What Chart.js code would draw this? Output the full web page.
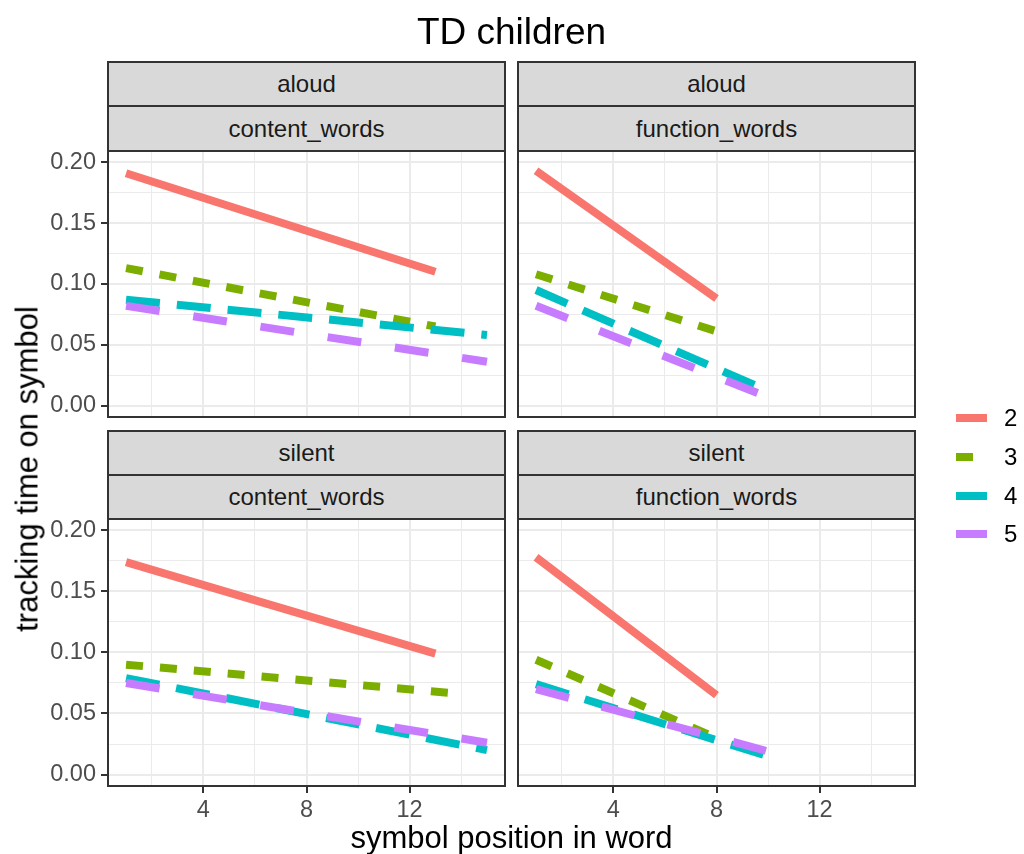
<!DOCTYPE html>
<html>
<head>
<meta charset="utf-8">
<script src="https://cdn.jsdelivr.net/npm/chart.js"></script>
<style>
  body { margin: 0; background: #fff; font-family: "Liberation Sans", Arial, sans-serif; }
  #pagina { position: relative; width: 1024px; height: 854px; overflow: hidden; background: #fff; }
  .camada { position: absolute; left: 0; top: 0; }
  .faixa {
    position: absolute; box-sizing: border-box; background: #D9D9D9;
    border: 2px solid #333333; color: #1A1A1A; font-size: 24px;
    display: flex; align-items: center; justify-content: center;
  }
  .texto { position: absolute; white-space: nowrap; color: #000; }
  .chave { position: absolute; height: 8px; }
  .rotulo { position: absolute; font-size: 24px; line-height: 24px; color: #000; }
</style>
</head>
<body>
<div id="pagina">
  <div class="camada"><canvas id="p1" width="1024" height="854"></canvas></div>
  <div class="camada"><canvas id="p2" width="1024" height="854"></canvas></div>
  <div class="camada"><canvas id="p3" width="1024" height="854"></canvas></div>
  <div class="camada"><canvas id="p4" width="1024" height="854"></canvas></div>

  <!-- faixas dos painéis (facet strips) -->
  <div class="faixa" style="left:107px; top:61px; width:399px; height:46px;">aloud</div>
  <div class="faixa" style="left:107px; top:105px; width:399px; height:47px;">content_words</div>
  <div class="faixa" style="left:517px; top:61px; width:399px; height:46px;">aloud</div>
  <div class="faixa" style="left:517px; top:105px; width:399px; height:47px;">function_words</div>
  <div class="faixa" style="left:107px; top:430px; width:399px; height:46px;">silent</div>
  <div class="faixa" style="left:107px; top:474px; width:399px; height:46px;">content_words</div>
  <div class="faixa" style="left:517px; top:430px; width:399px; height:46px;">silent</div>
  <div class="faixa" style="left:517px; top:474px; width:399px; height:46px;">function_words</div>

  <div class="texto" style="left:511.5px; top:13px; font-size:37px; line-height:37px; transform:translateX(-50%);">TD children</div>
  <div class="texto" style="left:511.5px; top:822px; font-size:31px; line-height:31px; transform:translateX(-50%);">symbol position in word</div>
  <div class="texto" style="left:26.5px; top:468.5px; font-size:31px; line-height:31px; transform:translate(-50%,-50%) rotate(-90deg);">tracking time on symbol</div>

  <div id="legenda"></div>
</div>

<script>
// grupos e cores (paleta padrão do ggplot)
const grupos = ['2', '3', '4', '5'];
const cores = ['#F8766D', '#7CAE00', '#00BFC4', '#C77CFF'];
const tracos = [[], [17, 17], [34, 17], [34, 34]];

const xTicks = [2, 4, 6, 8, 10, 12, 14];
const yTicks = [0, 0.025, 0.05, 0.075, 0.1, 0.125, 0.15, 0.175, 0.2];

// aloud / content_words  (início e fim de cada reta)
const aloudContentX = [[1, 13], [1, 13], [1, 15], [1, 15]];
const aloudContentY = [[0.191, 0.110], [0.113, 0.065], [0.087, 0.058], [0.082, 0.036]];

// aloud / function_words
const aloudFunctionX = [[1, 8], [1, 8], [1, 10], [1, 10]];
const aloudFunctionY = [[0.193, 0.088], [0.108, 0.061], [0.095, 0.012], [0.082, 0.007]];

// silent / content_words
const silentContentX = [[1, 13], [1, 14], [1, 15], [1, 15]];
const silentContentY = [[0.174, 0.099], [0.090, 0.066], [0.079, 0.020], [0.075, 0.026]];

// silent / function_words
const silentFunctionX = [[1, 8], [1, 8], [1, 10], [1, 10]];
const silentFunctionY = [[0.178, 0.065], [0.094, 0.030], [0.074, 0.015], [0.070, 0.019]];

Chart.defaults.font.family = '"Liberation Sans", Arial, sans-serif';

// contorno do painel (theme_bw)
const bordaPainel = {
  id: 'bordaPainel',
  afterDraw(chart) {
    const a = chart.chartArea;
    const ctx = chart.ctx;
    ctx.save();
    ctx.strokeStyle = '#333333';
    ctx.lineWidth = 2;
    ctx.strokeRect(a.left, a.top, a.right - a.left, a.bottom - a.top);
    ctx.restore();
  }
};

const ehMaiorX = v => v % 4 === 0;
const ehMaiorY = v => Math.round(v * 1000) % 50 === 0;

function criarPainel(canvasId, xs, ys, caixa, mostraY, mostraX) {
  const datasets = grupos.map((g, i) => ({
    label: g,
    data: xs[i].map((x, k) => ({ x: x, y: ys[i][k] })),
    borderColor: cores[i],
    borderWidth: 8,
    borderDash: tracos[i],
    borderCapStyle: 'butt',
    pointRadius: 0,
    fill: false,
    tension: 0,
    order: grupos.length - i // grupo 5 por cima
  }));

  const larguraY = mostraY ? 100 : 0;
  const alturaX = mostraX ? 50 : 0;

  return new Chart(document.getElementById(canvasId), {
    type: 'line',
    data: { datasets },
    options: {
      responsive: false,
      animation: false,
      events: [],
      layout: {
        padding: {
          left: caixa.left - larguraY,
          top: caixa.top,
          right: 1024 - caixa.right,
          bottom: 854 - caixa.bottom - alturaX
        }
      },
      plugins: {
        legend: { display: false },
        tooltip: { enabled: false },
        title: { display: false }
      },
      scales: {
        x: {
          type: 'linear',
          min: 0.3,
          max: 15.7,
          afterBuildTicks: s => { s.ticks = xTicks.map(v => ({ value: v })); },
          afterFit: s => { s.height = alturaX; },
          border: { display: false },
          grid: {
            color: '#EBEBEB',
            lineWidth: c => (c.tick && ehMaiorX(c.tick.value)) ? 2 : 1,
            drawTicks: mostraX,
            tickLength: 7,
            tickWidth: 2,
            tickColor: c => (c.tick && ehMaiorX(c.tick.value)) ? '#333333' : 'rgba(0,0,0,0)'
          },
          ticks: {
            display: mostraX,
            autoSkip: false,
            maxRotation: 0,
            padding: 3,
            color: '#4D4D4D',
            font: { size: 23.5 },
            callback: v => ehMaiorX(v) ? String(v) : ''
          }
        },
        y: {
          type: 'linear',
          min: -0.0094,
          max: 0.2093,
          afterBuildTicks: s => { s.ticks = yTicks.map(v => ({ value: v })); },
          afterFit: s => { s.width = larguraY; },
          border: { display: false },
          grid: {
            color: '#EBEBEB',
            lineWidth: c => (c.tick && ehMaiorY(c.tick.value)) ? 2 : 1,
            drawTicks: mostraY,
            tickLength: 7,
            tickWidth: 2,
            tickColor: c => (c.tick && ehMaiorY(c.tick.value)) ? '#333333' : 'rgba(0,0,0,0)'
          },
          ticks: {
            display: mostraY,
            autoSkip: false,
            padding: 5,
            color: '#4D4D4D',
            font: { size: 23.5 },
            callback: v => ehMaiorY(v) ? v.toFixed(2) : ''
          }
        }
      }
    },
    plugins: [bordaPainel]
  });
}

criarPainel('p1', aloudContentX, aloudContentY, { left: 108, top: 151, right: 505, bottom: 417 }, true, false);
criarPainel('p2', aloudFunctionX, aloudFunctionY, { left: 518, top: 151, right: 915, bottom: 417 }, false, false);
criarPainel('p3', silentContentX, silentContentY, { left: 108, top: 519, right: 505, bottom: 786 }, true, true);
criarPainel('p4', silentFunctionX, silentFunctionY, { left: 518, top: 519, right: 915, bottom: 786 }, false, true);

// legenda manual (linetype + cor)
const legenda = document.getElementById('legenda');
const centrosLegenda = [418.3, 456.8, 495.6, 534];
grupos.forEach((g, i) => {
  const largura = i === 1 ? 17 : 31;
  legenda.innerHTML += `<div class="chave" style="left:956px; top:${centrosLegenda[i] - 4}px; width:${largura}px; background:${cores[i]};"></div>
    <div class="rotulo" style="left:1004px; top:${centrosLegenda[i] - 12}px;">${g}</div>`;
});
</script>
</body>
</html>
